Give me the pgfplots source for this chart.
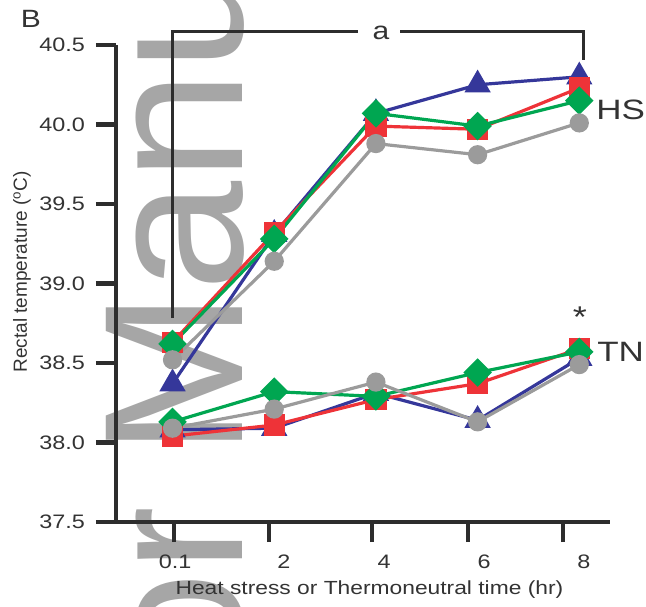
\documentclass[border=0pt]{standalone}
\usepackage{pgfplots}
\pgfplotsset{compat=1.18}
\usepackage{fontspec}
\setmainfont{Liberation Sans}
\definecolor{axc}{HTML}{2D2D2D}
\definecolor{txc}{HTML}{333333}
\definecolor{wm}{HTML}{A6A6A6}
\definecolor{cb}{HTML}{35379A}
\definecolor{cr}{HTML}{EE3338}
\definecolor{cg}{HTML}{00A651}
\definecolor{cy}{HTML}{9B9B9B}
\pgfplotsset{
  sb/.style={color=cb, line width=3.2pt, mark=triangle*, mark size=12pt, mark options={draw=none, fill=cb}},
  sr/.style={color=cr, line width=3.2pt, mark=square*, mark size=9pt, mark options={draw=none, fill=cr}},
  sg/.style={color=cg, line width=3.2pt, mark=square*, mark size=8.5pt, mark options={draw=none, fill=cg, rotate=45}},
  sy/.style={color=cy, line width=3.2pt, mark=*, mark size=8pt, mark options={draw=none, fill=cy}},
}
\begin{document}
\begin{tikzpicture}
\useasboundingbox (0,0) rectangle (646pt,-607pt);
% watermark (cut off at the page edges, as in the reference)
\node[overlay, rotate=90, anchor=base west, inner sep=0pt, text=wm, font=\fontsize{198}{198}\selectfont] at (242pt,-457pt) {Manuscript};
\node[overlay, rotate=90, anchor=base east, inner sep=0pt, text=wm, font=\fontsize{198}{198}\selectfont] at (242pt,-506pt) {Author};
\begin{axis}[
  at={(116pt,-522pt)}, anchor=south west,
  scale only axis, width=494pt, height=477pt,
  xmin=-0.556, xmax=4.302, ymin=37.5, ymax=40.5,
  axis x line*=bottom, axis y line*=left,
  axis line style={line width=4.8pt, color=axc},
  tick style={line width=4.5pt, color=axc},
  major tick length=20pt, tick align=outside,
  ytick={37.5,38,38.5,39,39.5,40,40.5},
  yticklabels={37.5,38.0,38.5,39.0,39.5,40.0,40.5},
  xtick={0.015,0.949,1.962,2.906,3.84}, xticklabels={,,,,},
  extra x ticks={0.025,1.096,2.08,3.063,4.046},
  extra x tick labels={0.1,2,4,6,8},
  extra x tick style={major tick length=0pt, tick style={draw=none}},
  /pgf/number format/assume math mode=true,
  ticklabel style={font=\fontsize{19.5}{20}\selectfont, text=txc, inner sep=0pt, xscale=1.2},
  yticklabel style={anchor=east, xshift=-9pt},
  xticklabel style={anchor=north, yshift=-33pt},
  xlabel={Heat stress or Thermoneutral time (hr)},
  xlabel style={at={(axis description cs:0.513,0)}, anchor=north, yshift=-59pt, inner sep=0pt, font=\fontsize{19}{20}\selectfont, xscale=1.2, text=txc},
  ylabel={Rectal temperature (\textsuperscript{o}C)},
  ylabel style={at={(axis description cs:-0.1903,0.524)}, anchor=center, inner sep=0pt, font=\fontsize{19}{20}\selectfont, text=txc},
  clip=false,
]
% HS
\addplot[sb] coordinates {(0,38.37) (1,39.31) (2,40.07) (3,40.25) (4,40.30)};
\addplot[sr] coordinates {(0,38.63) (1,39.32) (2,39.99) (3,39.97) (4,40.23)};
\addplot[sg] coordinates {(0,38.62) (1,39.28) (2,40.07) (3,39.99) (4,40.15)};
\addplot[sy] coordinates {(0,38.52) (1,39.14) (2,39.88) (3,39.81) (4,40.01)};
% TN
\addplot[sb] coordinates {(0,38.08) (1,38.09) (2,38.31) (3,38.14) (4,38.53)};
\addplot[sr] coordinates {(0,38.04) (1,38.11) (2,38.27) (3,38.37) (4,38.59)};
\addplot[sg] coordinates {(0,38.13) (1,38.32) (2,38.29) (3,38.44) (4,38.57)};
\addplot[sy] coordinates {(0,38.09) (1,38.21) (2,38.38) (3,38.13) (4,38.49)};
\end{axis}
% significance bracket
\draw[line width=3pt, color=axc] (172pt,-318pt) |- (358pt,-32pt);
\draw[line width=3pt, color=axc] (400pt,-32pt) -| (583pt,-60pt);
\node[font=\fontsize{25}{25}\selectfont, xscale=1.2, text=txc, inner sep=0pt] at (381pt,-33pt) {a};
\node[font=\fontsize{25}{25}\selectfont, xscale=1.2, text=txc, inner sep=0pt] at (31pt,-19pt) {B};
\node[font=\fontsize{28}{28}\selectfont, xscale=1.25, text=txc, inner sep=0pt, anchor=west] at (596pt,-110pt) {HS};
\node[font=\fontsize{28}{28}\selectfont, xscale=1.25, text=txc, inner sep=0pt, anchor=west] at (597pt,-352pt) {TN};
\node[font=\fontsize{30}{30}\selectfont, xscale=1.2, text=txc, inner sep=0pt, anchor=north] at (580pt,-307pt) {*};
\end{tikzpicture}
\end{document}
